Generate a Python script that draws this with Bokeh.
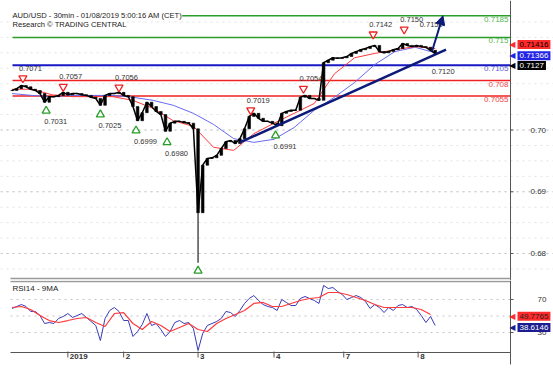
from bokeh.plotting import figure
from bokeh.layouts import column
from bokeh.models import Range1d, Span, Arrow, NormalHead
from bokeh.core.properties import value
from bokeh.embed import file_html
from bokeh.resources import INLINE

FONT = "Liberation Sans"

# ---------------- data (30-min bars, sampled every 3 bars) ----------------
closes = [0.7064, 0.7067, 0.7072, 0.7070, 0.7066, 0.7064, 0.7059, 0.7045, 0.7054, 0.7054,
          0.7056, 0.7061, 0.7057, 0.7059, 0.7059, 0.7057, 0.7056, 0.7053, 0.7051, 0.7040,
          0.7056, 0.7059, 0.7059, 0.7061, 0.7056, 0.7054, 0.7038, 0.7015, 0.7028, 0.7045,
          0.7038, 0.7030, 0.7025, 0.6998, 0.7011, 0.7014, 0.7014, 0.7012, 0.7011, 0.7002,
          0.6866, 0.6943, 0.6954, 0.6955, 0.6959, 0.6970, 0.6981, 0.6983, 0.6978, 0.6986,
          0.7002, 0.7022, 0.7027, 0.7019, 0.7014, 0.7014, 0.7011, 0.7007, 0.7027, 0.7030,
          0.7032, 0.7032, 0.7053, 0.7056, 0.7051, 0.7051, 0.7048, 0.7109, 0.7113, 0.7117,
          0.7116, 0.7117, 0.7119, 0.7124, 0.7127, 0.7130, 0.7132, 0.7135, 0.7137, 0.7127,
          0.7125, 0.7127, 0.7130, 0.7132, 0.7140, 0.7137, 0.7135, 0.7137, 0.7135, 0.7134,
          0.7129, 0.7124]
crash_bar = 121
crash_low = 0.6785

# moving averages, sampled every 13 bars
ma_fast = [0.7066, 0.7066, 0.7057, 0.7054, 0.7054, 0.7054, 0.7048, 0.7035, 0.7015, 0.7006,
           0.6972, 0.6967, 0.6994, 0.7011, 0.7027, 0.7043, 0.7091, 0.7117, 0.7124, 0.7130,
           0.7135, 0.7132]
ma_slow = [0.7059, 0.7056, 0.7054, 0.7056, 0.7056, 0.7056, 0.7053, 0.7048, 0.7040, 0.7027,
           0.7009, 0.6986, 0.6980, 0.6985, 0.7004, 0.7032, 0.7053, 0.7077, 0.7106, 0.7127,
           0.7134, 0.7125]

# RSI(14), sampled every 3 bars; its 9-period MA sampled every 6 bars
rsi = [59.1, 61.5, 63.9, 61.5, 55.5, 55.5, 50.6, 40.9, 42.1, 40.9,
       47.0, 49.4, 53.0, 48.2, 50.6, 53.0, 48.2, 43.3, 38.5, 20.3,
       47.0, 56.7, 60.3, 55.5, 44.5, 44.5, 25.2, 31.2, 39.7, 53.0,
       38.5, 40.9, 33.6, 25.2, 31.2, 42.1, 44.5, 40.9, 42.1, 34.8,
       8.2, 28.8, 38.5, 40.9, 43.3, 47.0, 55.5, 54.2, 49.4, 56.7,
       65.2, 71.2, 74.8, 68.8, 63.9, 61.5, 60.3, 56.7, 70.0, 66.4,
       62.7, 62.7, 71.2, 73.6, 71.2, 68.8, 65.2, 87.0, 83.3, 84.5,
       79.7, 76.1, 70.0, 72.4, 74.8, 72.4, 67.6, 59.1, 63.9, 60.3,
       54.2, 60.3, 56.7, 62.7, 63.9, 60.3, 61.5, 57.9, 50.6, 42.1,
       49.4, 38.5]
rsi_ma = [60.3, 61.5, 57.9, 50.6, 44.5, 42.1, 44.5, 47.0, 48.2, 42.1,
          37.3, 53.0, 54.2, 40.9, 33.6, 43.3, 38.5, 31.2, 36.1, 40.9,
          33.6, 31.2, 40.9, 47.0, 51.8, 56.7, 65.2, 66.4, 61.5, 61.5,
          65.2, 68.8, 71.2, 72.4, 78.5, 78.5, 76.1, 72.4, 68.8, 63.9,
          60.3, 60.3, 60.3, 60.3, 57.9, 51.8]

# key levels
levels = [0.7185, 0.715, 0.7105, 0.708, 0.7055]
level_text = ["0.7185", "0.715", "0.7105", "0.708", "0.7055"]

# pivots (bar index, price)
peak_bars = [8, 34, 70, 155, 189, 234, 254]
peak_vals = [0.7071, 0.7057, 0.7056, 0.7019, 0.7054, 0.7142, 0.7150]
low_bars = [23, 58, 81, 101, 171]
low_vals = [0.7031, 0.7025, 0.6999, 0.6980, 0.6991]

# trend line, target
trend_bars = [148, 281]
trend_vals = [0.6980, 0.7130]
support_val = 0.7120
target_val = 0.7150
target_level = 0.7185

last_fast, last_slow, last_close = 0.71416, 0.71366, 0.7127
last_rsi_ma, last_rsi = 49.7765, 38.6146

price_ticks = [0.70, 0.69, 0.68]
price_minor = [round(0.6775 + 0.0025 * i, 4) for i in range(17)]
rsi_ticks = [70, 30]
rsi_grid = [70, 50, 30]
day_ticks = [37, 73, 121, 170, 215, 263]
day_labels = ["2019", "2", "3", "4", "7", "8"]

# ---------------- scale set-up (1 bar = 1.55 px) ----------------
BAR_PX = 1.55
PX_PER_PRICE = 6175.0       # px per 1.0 of price
PX_PER_RSI = 0.825
X0, X1 = -10 / BAR_PX, 543 / BAR_PX
AXIS_X = 500 / BAR_PX       # right axis position (bars)
P_TOP, P_BOT = 0.720972, 0.675628
R_TOP, R_BOT = 93.03, -18.48
R_AXIS_Y = 5.76             # RSI time axis position

def dpx_x(px):
    return px / BAR_PX

def dpx_p(px):
    return px / PX_PER_PRICE

def dpx_r(px):
    return px / PX_PER_RSI

close_x = [1 + 3 * k for k in range(len(closes))]
opens = [closes[0]] + closes[:-1]
tops = [max(a, b) for a, b in zip(opens, closes)]
bots = [min(a, b) for a, b in zip(opens, closes)]
ma_x = [1 + 13 * j for j in range(len(ma_fast))]
rsi_x = [1 + 3 * k for k in range(len(rsi))]
rsi_ma_x = [1 + 6 * m for m in range(len(rsi_ma))]

TXT = dict(text_font=value(FONT), text_font_size="8px", text_color="#333333")

# ---------------- main price panel ----------------
p = figure(width=553, height=280, x_range=Range1d(X0, X1), y_range=Range1d(P_BOT, P_TOP),
           output_backend="svg", toolbar_location=None, x_axis_location=None,
           y_axis_location=None, min_border=0)
p.outline_line_color = None
p.grid.visible = False

for t in price_minor:
    p.add_layout(Span(location=t, dimension="width", line_color="#e2e2e2",
                      line_dash="dotted", line_width=1, level="underlay"))
for t in price_ticks:
    p.add_layout(Span(location=t, dimension="width", line_color="#c4c4c4",
                      line_dash="dotted", line_width=1, level="underlay"))

# right price axis (drawn)
p.segment(x0=[AXIS_X], y0=[P_BOT], x1=[AXIS_X], y1=[P_TOP], line_color="#555555", line_width=1)
p.segment(x0=[AXIS_X] * 3, y0=price_ticks, x1=[AXIS_X + dpx_x(3)] * 3, y1=price_ticks,
          line_color="#555555", line_width=1)
p.text(x=[AXIS_X + dpx_x(20)] * 3, y=price_ticks, text=[f"{t:.2f}" for t in price_ticks],
       text_align="left", text_baseline="middle", **TXT)
# panel separator
p.segment(x0=[0], y0=[P_BOT + dpx_p(2)], x1=[AXIS_X], y1=[P_BOT + dpx_p(2)],
          line_color="#9a9a9a", line_width=1.5)

# key levels
level_line_colors = ["#2a9d2a", "#2a9d2a", "#1717c4", "#ee2222", "#ee2222"]
level_widths = [1.5, 1.5, 2, 1.5, 1.5]
level_text_colors = ["#55b855", "#55b855", "#5b5bd6", "#f04848", "#f04848"]
for lv, c, w in zip(levels, level_line_colors, level_widths):
    p.segment(x0=[dpx_x(2)], y0=[lv], x1=[AXIS_X], y1=[lv], line_color=c, line_width=w)
p.text(x=[AXIS_X - dpx_x(2)] * len(levels), y=levels, text=level_text,
       text_color=level_text_colors, text_align="right", text_baseline="top", y_offset=1,
       text_font=value(FONT), text_font_size="8px")

# moving averages
p.line(ma_x, ma_slow, line_color="#6a6af2", line_width=1)
p.line(ma_x, ma_fast, line_color="#ff3a3a", line_width=1)

# candles
p.line(close_x, closes, line_color="black", line_width=1.5)
p.vbar(x=close_x, top=tops, bottom=bots, width=1.7, fill_color="black",
       line_color="black", line_width=0.6)
p.segment(x0=[crash_bar], y0=[closes[close_x.index(crash_bar)]], x1=[crash_bar],
          y1=[crash_low], line_color="#222222", line_width=1.2)

# trend line and projection
p.line(trend_bars, trend_vals, line_color="#0c1a78", line_width=2.5)
p.add_layout(Arrow(end=NormalHead(size=9, fill_color="#0c1a78", line_color="#0c1a78"),
                   x_start=close_x[-1] - 2, y_start=closes[-1] + 0.0004,
                   x_end=close_x[-1] + 5, y_end=target_level,
                   line_color="#0c1a78", line_width=2))

# pivot markers
peak_pad = 0.0013
peak_y = [v + peak_pad for v in peak_vals]
p.scatter(peak_bars, peak_y, marker="inverted_triangle", size=8, fill_color="white",
          line_color="#ee2222", line_width=1.3)
p.scatter(low_bars, low_vals, marker="triangle", size=8, fill_color="white",
          line_color="#2a9d2a", line_width=1.3)
p.scatter([crash_bar], [crash_low - peak_pad], marker="triangle", size=8,
          fill_color="white", line_color="#2a9d2a", line_width=1.3)
SM = dict(text_font=value(FONT), text_font_size="7.5px", text_color="#333333")
p.text(peak_bars, peak_y, text=[f"{v:.4f}" for v in peak_vals],
       x_offset=-4, y_offset=-10, text_align="left", text_baseline="middle", **SM)
p.text(low_bars, low_vals, text=[f"{v:.4f}" for v in low_vals],
       x_offset=-2, y_offset=11, text_align="left", text_baseline="middle", **SM)
p.text([close_x[-1] - 1], [support_val], text=[f"{support_val:.4f}"],
       x_offset=-2, y_offset=16, text_align="left", text_baseline="middle", **SM)
p.text([close_x[-1] - 10], [target_val], text=[f"{target_val:.4f}"],
       x_offset=0, y_offset=-13, text_align="left", text_baseline="middle", **SM)

# titles
p.text(x=[dpx_x(2)], y=[P_TOP - dpx_p(10)],
       text=["AUD/USD - 30min - 01/08/2019 5:00:16 AM (CET)"],
       text_baseline="top", text_align="left", background_fill_color="white",
       text_font=value(FONT), text_font_size="7.6px", text_color="#222222")
p.text(x=[dpx_x(2)], y=[P_TOP - dpx_p(19)], text=["Research \u00a9 TRADING CENTRAL"],
       text_baseline="top", text_align="left", background_fill_color="white",
       text_font=value(FONT), text_font_size="7.6px", text_color="#222222")

# right-hand value tags
TAG_X = AXIS_X + dpx_x(7)
for v, off, bg, fg, t in [(last_fast, 2, "#ff2a2a", "black", "0.71416"),
                          (last_slow, 10, "#2323e6", "white", "0.71366"),
                          (last_close, 14, "black", "white", "0.7127")]:
    p.text(x=[TAG_X], y=[v], y_offset=off, text=[t], text_align="left",
           text_baseline="middle", text_font=value(FONT), text_font_size="8px",
           text_color=fg, background_fill_color=bg, padding=2)
    p.text(x=[TAG_X], y=[v], y_offset=off, x_offset=-2, text=["\u25c0"], text_align="right",
           text_baseline="middle", text_font=value("DejaVu Sans"), text_font_size="8px",
           text_color=bg)

# ---------------- RSI panel ----------------
r = figure(width=553, height=92, x_range=p.x_range, y_range=Range1d(R_BOT, R_TOP),
           output_backend="svg", toolbar_location=None, x_axis_location=None,
           y_axis_location=None, min_border=0)
r.outline_line_color = None
r.grid.visible = False

for t in rsi_grid:
    r.segment(x0=[0], y0=[t], x1=[AXIS_X], y1=[t], line_color="#c4c4c4",
              line_dash="dotted", line_width=1)
# separator and axes
r.segment(x0=[0], y0=[R_TOP - dpx_r(1)], x1=[AXIS_X], y1=[R_TOP - dpx_r(1)],
          line_color="#9a9a9a", line_width=1.5)
r.segment(x0=[AXIS_X], y0=[R_TOP], x1=[AXIS_X], y1=[R_AXIS_Y - dpx_r(12)],
          line_color="#555555", line_width=1)
r.segment(x0=[AXIS_X] * 2, y0=rsi_ticks, x1=[AXIS_X + dpx_x(3)] * 2, y1=rsi_ticks,
          line_color="#555555", line_width=1)
r.text(x=[AXIS_X + dpx_x(27)] * 2, y=rsi_ticks, text=[str(t) for t in rsi_ticks],
       text_align="left", text_baseline="middle", **TXT)
r.segment(x0=[0], y0=[R_AXIS_Y], x1=[AXIS_X], y1=[R_AXIS_Y], line_color="#555555",
          line_width=1)
r.segment(x0=day_ticks, y0=[R_AXIS_Y + dpx_r(1)] * len(day_ticks), x1=day_ticks,
          y1=[R_AXIS_Y - dpx_r(5)] * len(day_ticks), line_color="#555555", line_width=1)
r.text(x=day_ticks, y=[R_AXIS_Y - dpx_r(1)] * len(day_ticks), text=day_labels, x_offset=2,
       text_align="left", text_baseline="top", text_font=value(FONT),
       text_font_size="8px", text_font_style="bold", text_color="#333333")

r.line(rsi_x, rsi, line_color="#3a3ab8", line_width=1)
r.line(rsi_ma_x, rsi_ma, line_color="#ff3a3a", line_width=1.2)

r.text(x=[dpx_x(2)], y=[R_TOP - dpx_r(3)], text=["RSI14 - 9MA"], text_baseline="top",
       text_align="left", text_font=value(FONT), text_font_size="8px", text_color="#222222")
for v, off, bg, fg in [(last_rsi_ma, 0, "#ff2a2a", "#222222"),
                       (last_rsi, 2, "#1c1c90", "white")]:
    r.text(x=[TAG_X], y=[v], y_offset=off, text=[f"{v:.4f}"], text_align="left",
           text_baseline="middle", text_font=value(FONT), text_font_size="8px",
           text_color=fg, background_fill_color=bg, padding=2)
    r.text(x=[TAG_X], y=[v], y_offset=off, x_offset=-2, text=["\u25c0"], text_align="right",
           text_baseline="middle", text_font=value("DejaVu Sans"), text_font_size="8px",
           text_color=bg)

layout = column(p, r, spacing=0)
open("out.html", "w").write(file_html(layout, INLINE))
